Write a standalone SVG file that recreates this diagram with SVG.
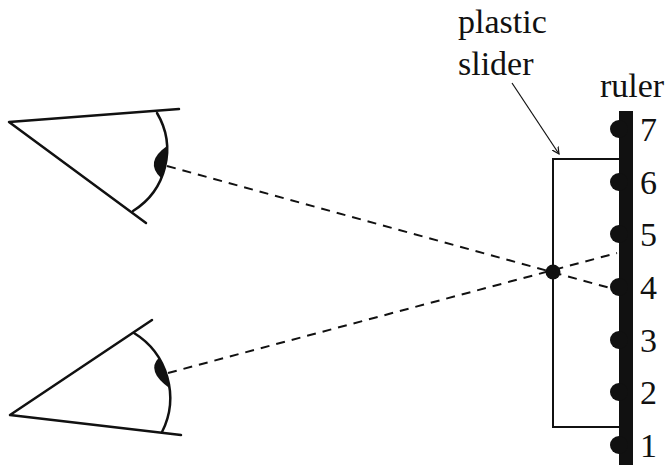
<svg xmlns="http://www.w3.org/2000/svg" width="672" height="465" viewBox="0 0 672 465">
<style>
.ln{fill:none;stroke:#111;stroke-width:2.5;stroke-linecap:round;stroke-linejoin:round}
.dash{fill:none;stroke:#111;stroke-width:2;stroke-dasharray:9 7}
.fill{fill:#111;stroke:none}
.lbl{font-family:"Liberation Serif","Times New Roman",serif;font-size:34px;fill:#111}
</style>
<defs>
<marker id="arr" markerWidth="8" markerHeight="8" refX="7" refY="4" orient="auto" markerUnits="userSpaceOnUse">
<path d="M0,0.5 L7,4 L0,7.5" fill="none" stroke="#111" stroke-width="1.2"/>
</marker>
</defs>
<rect width="672" height="465" fill="#fff"/>
<g id="eye-upper">
<path class="ln" d="M179,109 L9,122 L146,223"/>
<path class="ln" d="M157,113 A72,72 0 0 1 133,211"/>
<path class="fill" d="M167,146 A72,72 0 0 1 161,178 Q144,162 167,146 Z"/>
</g>
<g id="eye-lower">
<path class="ln" d="M152,320 L10,415 L181,435"/>
<path class="ln" d="M134,333 A76,76 0 0 1 162,432"/>
<path class="fill" d="M158.6,358 A76,76 0 0 1 169.3,388 Q146,371 158.6,358 Z"/>
</g>
<g id="slider">
<path d="M619,159 L553,159 L553,427 L619,427" fill="none" stroke="#111" stroke-width="2"/>
<circle class="fill" cx="553" cy="272" r="7.5"/>
</g>
<g id="ruler">
<rect class="fill" x="619" y="111" width="14" height="354"/>
<circle class="fill" cx="619" cy="129" r="9"/>
<circle class="fill" cx="619" cy="182" r="9"/>
<circle class="fill" cx="619" cy="234" r="9"/>
<circle class="fill" cx="619" cy="287" r="9"/>
<circle class="fill" cx="619" cy="340" r="9"/>
<circle class="fill" cx="619" cy="392" r="9"/>
<circle class="fill" cx="619" cy="445" r="9"/>
<text class="lbl" x="640" y="141">7</text>
<text class="lbl" x="640" y="194">6</text>
<text class="lbl" x="640" y="246">5</text>
<text class="lbl" x="640" y="299">4</text>
<text class="lbl" x="640" y="352">3</text>
<text class="lbl" x="640" y="404">2</text>
<text class="lbl" x="640" y="457">1</text>
<text class="lbl" x="600" y="97">ruler</text>
</g>
<g id="label-slider">
<text class="lbl" x="458" y="33">plastic</text>
<text class="lbl" x="458" y="75">slider</text>
</g>
<g id="connectors">
<line class="dash" x1="167" y1="166" x2="610" y2="288"/>
<line class="dash" x1="168" y1="373" x2="617" y2="253"/>
<line x1="512" y1="83" x2="559" y2="154" stroke="#111" stroke-width="1.2" marker-end="url(#arr)"/>
</g>
</svg>
